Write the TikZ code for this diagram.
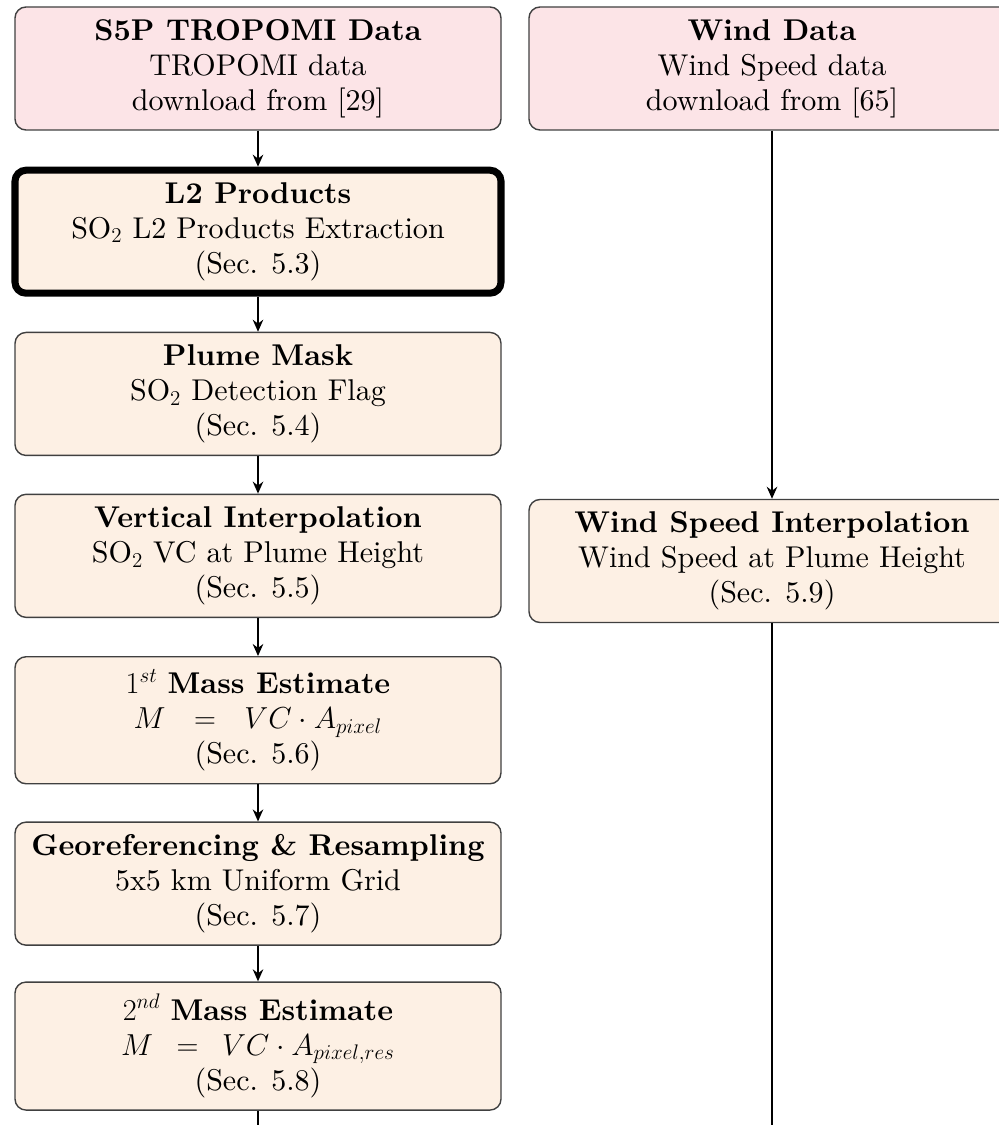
\documentclass[tikz,border=0pt]{standalone}
\usepackage{amssymb}
\usepackage{amsmath}
\usepackage{fontspec}
\setmainfont{lmroman10-regular.otf}[BoldFont=lmroman10-bold.otf,ItalicFont=lmroman10-italic.otf]
\usepackage{tikz}
\usetikzlibrary{positioning,arrows.meta}
\definecolor{datapink}{RGB}{252,228,231}
\definecolor{procpeach}{RGB}{253,240,228}
\tikzset{
  stagebox/.style={draw=black!75,line width=0.8pt,rounded corners=0.22cm,fill=procpeach,
    minimum width=9.72cm,minimum height=2.46cm,align=center,inner sep=2pt,
    font=\fontsize{17.1}{20}\selectfont},
  sourcebox/.style={stagebox,fill=datapink},
  flowarrow/.style={line width=1.1pt,-{Stealth[length=2.4mm,width=2.1mm]}},
  flowline/.style={line width=1.1pt}
}

\begin{document}
\begin{tikzpicture}
        \useasboundingbox (0,0) rectangle (19.96,-22.5);

        \node[sourcebox] (s5p) at (5.16,-1.37) {\textbf{S5P TROPOMI Data}\\TROPOMI data\\download from [29]};
        \node[sourcebox] (wind) at (15.44,-1.37) {\textbf{Wind Data}\\Wind Speed data\\download from [65]};

        \node[stagebox,below=0.72cm of s5p,draw=black,line width=4pt] (ltwo) {\textbf{L2 Products}\\SO$_2$ L2 Products Extraction\\(Sec. 5.3)};
        \node[stagebox,below=0.70cm of ltwo] (mask) {\textbf{Plume Mask}\\SO$_2$ Detection Flag\\(Sec. 5.4)};
        \node[stagebox,below=0.75cm of mask] (vint) {\textbf{Vertical Interpolation}\\SO$_2$ VC at Plume Height\\(Sec. 5.5)};
        \node[stagebox,below=0.76cm of vint,minimum height=2.54cm] (massone) {$1^{st}$ \textbf{Mass Estimate}\\$M\ \ =\ \ VC \cdot A_{pixel}$\\(Sec. 5.6)};
        \node[stagebox,below=0.74cm of massone] (georef) {\textbf{Georeferencing \& Resampling}\\5x5 km Uniform Grid\\(Sec. 5.7)};
        \node[stagebox,below=0.71cm of georef,minimum height=2.56cm] (masstwo) {$2^{nd}$ \textbf{Mass Estimate}\\$M\ \,=\ \,VC \cdot A_{pixel,res}$\\(Sec. 5.8)};

        \node[stagebox] (windint) at (15.44,-11.22) {\textbf{Wind Speed Interpolation}\\Wind Speed at Plume Height\\(Sec. 5.9)};

        \coordinate (leftend) at (5.16,-22.7);
        \coordinate (rightend) at (15.44,-22.7);

        \draw[flowarrow] (s5p) -- (ltwo);
        \draw[flowarrow] (ltwo) -- (mask);
        \draw[flowarrow] (mask) -- (vint);
        \draw[flowarrow] (vint) -- (massone);
        \draw[flowarrow] (massone) -- (georef);
        \draw[flowarrow] (georef) -- (masstwo);
        \draw[flowline] (masstwo) -- (leftend);
        \draw[flowarrow] (wind) -- (windint);
        \draw[flowline] (windint) -- (rightend);
    \end{tikzpicture}
\end{document}
